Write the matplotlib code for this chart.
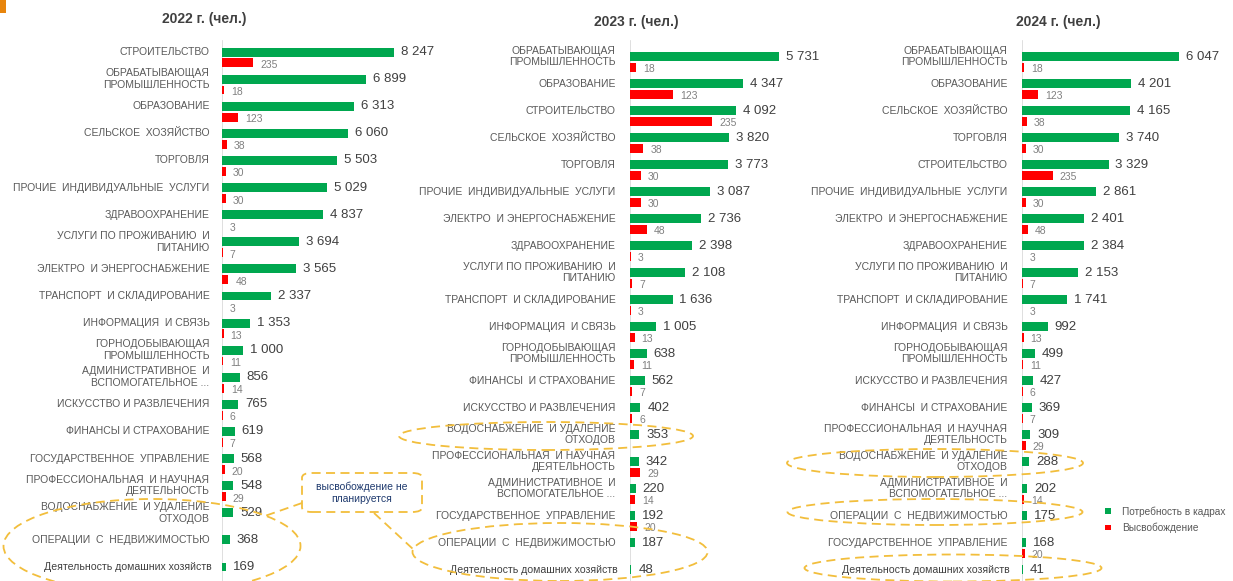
import numpy as np
import matplotlib.pyplot as plt
from matplotlib.patches import Ellipse, FancyBboxPatch, Rectangle

plt.rcParams['font.family'] = ['Liberation Sans', 'DejaVu Sans']

W, H = 1233, 581

# ---- data ----
cats_2022 = ['СТРОИТЕЛЬСТВО', 'ОБРАБАТЫВАЮЩАЯ\nПРОМЫШЛЕННОСТЬ', 'ОБРАЗОВАНИЕ', 'СЕЛЬСКОЕ  ХОЗЯЙСТВО',
             'ТОРГОВЛЯ', 'ПРОЧИЕ  ИНДИВИДУАЛЬНЫЕ  УСЛУГИ', 'ЗДРАВООХРАНЕНИЕ',
             'УСЛУГИ ПО ПРОЖИВАНИЮ  И\nПИТАНИЮ', 'ЭЛЕКТРО  И ЭНЕРГОСНАБЖЕНИЕ', 'ТРАНСПОРТ  И СКЛАДИРОВАНИЕ',
             'ИНФОРМАЦИЯ  И СВЯЗЬ', 'ГОРНОДОБЫВАЮЩАЯ\nПРОМЫШЛЕННОСТЬ', 'АДМИНИСТРАТИВНОЕ  И\nВСПОМОГАТЕЛЬНОЕ ...',
             'ИСКУССТВО И РАЗВЛЕЧЕНИЯ', 'ФИНАНСЫ И СТРАХОВАНИЕ', 'ГОСУДАРСТВЕННОЕ  УПРАВЛЕНИЕ',
             'ПРОФЕССИОНАЛЬНАЯ  И НАУЧНАЯ\nДЕЯТЕЛЬНОСТЬ', 'ВОДОСНАБЖЕНИЕ  И УДАЛЕНИЕ\nОТХОДОВ',
             'ОПЕРАЦИИ  С  НЕДВИЖИМОСТЬЮ', 'Деятельность домашних хозяйств']
need_2022 = [8247, 6899, 6313, 6060, 5503, 5029, 4837, 3694, 3565, 2337,
             1353, 1000, 856, 765, 619, 568, 548, 529, 368, 169]
rel_2022 = [235, 18, 123, 38, 30, 30, 3, 7, 48, 3,
            13, 11, 14, 6, 7, 20, 29, None, None, None]

cats_2023 = ['ОБРАБАТЫВАЮЩАЯ\nПРОМЫШЛЕННОСТЬ', 'ОБРАЗОВАНИЕ', 'СТРОИТЕЛЬСТВО', 'СЕЛЬСКОЕ  ХОЗЯЙСТВО',
             'ТОРГОВЛЯ', 'ПРОЧИЕ  ИНДИВИДУАЛЬНЫЕ  УСЛУГИ', 'ЭЛЕКТРО  И ЭНЕРГОСНАБЖЕНИЕ', 'ЗДРАВООХРАНЕНИЕ',
             'УСЛУГИ ПО ПРОЖИВАНИЮ  И\nПИТАНИЮ', 'ТРАНСПОРТ  И СКЛАДИРОВАНИЕ', 'ИНФОРМАЦИЯ  И СВЯЗЬ',
             'ГОРНОДОБЫВАЮЩАЯ\nПРОМЫШЛЕННОСТЬ', 'ФИНАНСЫ  И СТРАХОВАНИЕ', 'ИСКУССТВО И РАЗВЛЕЧЕНИЯ',
             'ВОДОСНАБЖЕНИЕ  И УДАЛЕНИЕ\nОТХОДОВ', 'ПРОФЕССИОНАЛЬНАЯ  И НАУЧНАЯ\nДЕЯТЕЛЬНОСТЬ',
             'АДМИНИСТРАТИВНОЕ  И\nВСПОМОГАТЕЛЬНОЕ ...', 'ГОСУДАРСТВЕННОЕ  УПРАВЛЕНИЕ',
             'ОПЕРАЦИИ  С  НЕДВИЖИМОСТЬЮ', 'Деятельность домашних хозяйств']
need_2023 = [5731, 4347, 4092, 3820, 3773, 3087, 2736, 2398, 2108, 1636,
             1005, 638, 562, 402, 353, 342, 220, 192, 187, 48]
rel_2023 = [18, 123, 235, 38, 30, 30, 48, 3, 7, 3,
            13, 11, 7, 6, None, 29, 14, 20, None, None]

cats_2024 = ['ОБРАБАТЫВАЮЩАЯ\nПРОМЫШЛЕННОСТЬ', 'ОБРАЗОВАНИЕ', 'СЕЛЬСКОЕ  ХОЗЯЙСТВО', 'ТОРГОВЛЯ',
             'СТРОИТЕЛЬСТВО', 'ПРОЧИЕ  ИНДИВИДУАЛЬНЫЕ  УСЛУГИ', 'ЭЛЕКТРО  И ЭНЕРГОСНАБЖЕНИЕ', 'ЗДРАВООХРАНЕНИЕ',
             'УСЛУГИ ПО ПРОЖИВАНИЮ  И\nПИТАНИЮ', 'ТРАНСПОРТ  И СКЛАДИРОВАНИЕ', 'ИНФОРМАЦИЯ  И СВЯЗЬ',
             'ГОРНОДОБЫВАЮЩАЯ\nПРОМЫШЛЕННОСТЬ', 'ИСКУССТВО И РАЗВЛЕЧЕНИЯ', 'ФИНАНСЫ  И СТРАХОВАНИЕ',
             'ПРОФЕССИОНАЛЬНАЯ  И НАУЧНАЯ\nДЕЯТЕЛЬНОСТЬ', 'ВОДОСНАБЖЕНИЕ  И УДАЛЕНИЕ\nОТХОДОВ',
             'АДМИНИСТРАТИВНОЕ  И\nВСПОМОГАТЕЛЬНОЕ ...', 'ОПЕРАЦИИ  С  НЕДВИЖИМОСТЬЮ',
             'ГОСУДАРСТВЕННОЕ  УПРАВЛЕНИЕ', 'Деятельность домашних хозяйств']
need_2024 = [6047, 4201, 4165, 3740, 3329, 2861, 2401, 2384, 2153, 1741,
             992, 499, 427, 369, 309, 288, 202, 175, 168, 41]
rel_2024 = [18, 123, 38, 30, 235, 30, 48, 3, 7, 3,
            13, 11, 6, 7, 29, None, 14, None, 20, None]

titles = ['2022 г. (чел.)', '2023 г. (чел.)', '2024 г. (чел.)']
legend_labels = ['Потребность в кадрах', 'Высвобождение']
note = 'высвобождение не\nпланируется'

GREEN = '#00A74F'
RED = '#FF0000'
GOLD = '#F2BE3C'

fig = plt.figure(figsize=(W / 100, H / 100), dpi=100)


def fx(px):
    return px / W


def fy(py):
    return 1 - py / H


def fmt(v):
    return f'{v:,}'.replace(',', ' ')


# x0 px, first row centre px, row spacing px, green px/unit, red px/unit, title centre, label gap
panels = [
    (cats_2022, need_2022, rel_2022, 222, 57.5, 27.1, 0.02086, 0.132, (204, 19), 9),
    (cats_2023, need_2023, rel_2023, 630, 62.0, 27.0, 0.0260, 0.350, (636, 22), 10.5),
    (cats_2024, need_2024, rel_2024, 1022, 62.0, 27.0, 0.0260, 0.130, (1058, 22), 10.5),
]

top_px, bot_px, width_px = 30, 581, 200
for k, (cats, need, rel, x0, y0, sp, sg, sr, tpos, gap) in enumerate(panels):
    ax = fig.add_axes([fx(x0), fy(bot_px), width_px / W, (bot_px - top_px) / H])
    ax2 = ax.twiny()
    ypos = np.arange(len(cats))
    gb = ax.barh(ypos - 0.2, need, height=0.33, color=GREEN)
    ry = [y for y, r in zip(ypos, rel) if r is not None]
    rv = [r for r in rel if r is not None]
    rb = ax2.barh(np.array(ry) + 0.2, rv, height=0.33, color=RED)
    ax.set_xlim(0, width_px / sg)
    ax2.set_xlim(0, width_px / sr)
    for a in (ax, ax2):
        a.set_ylim((bot_px - y0) / sp, (top_px - y0) / sp)
        a.axis('off')
    ax.axvline(0, ymin=0, ymax=0.98, color='#d9d9d9', lw=1.2, zorder=0)

    for y, v, c in zip(ypos, need, cats):
        ax.annotate(fmt(v), (v, y - 0.2), xytext=(5, 0), textcoords='offset points',
                    va='center', ha='left', fontsize=9.5, color='#404040')
        last = c.startswith('Деят')
        ax.annotate(c, (0, y - 0.2), xytext=(-gap + (1.5 if last else 0), 0),
                    textcoords='offset points',
                    va='center', ha='right', fontsize=7.5 if not last else 7.6,
                    color='#595959' if not last else '#404040', linespacing=1.2,
                    annotation_clip=False)
    for y, r in zip(ry, rv):
        ax2.annotate(str(r), (r, y + 0.2), xytext=(5, -1.5), textcoords='offset points',
                     va='center', ha='left', fontsize=7.5, color='#808080')

    fig.text(fx(tpos[0]), fy(tpos[1]), titles[k], ha='center', va='center',
             fontsize=10, fontweight='bold', color='#404040')

    if k == 2:
        ax.legend([gb, rb], legend_labels, loc='upper left', frameon=False,
                  bbox_to_anchor=(fx(1099), fy(500)), bbox_transform=fig.transFigure,
                  fontsize=7.3, labelcolor='#595959', handlelength=0.6, handleheight=0.5,
                  handletextpad=1.1, labelspacing=0.6, borderaxespad=0.2)

# dashed callouts (pixel centre, width, height)
ellipses = [((152, 546), 297, 94), ((546, 436), 294, 28), ((560, 552), 295, 58),
            ((935, 463), 296, 28), ((935, 512), 295, 26), ((953, 568), 297, 27)]
for (cx, cy), ew, eh in ellipses:
    fig.add_artist(Ellipse((fx(cx), fy(cy)), ew / W, eh / H, transform=fig.transFigure,
                           fill=False, ec=GOLD, lw=1.3, ls=(0, (5, 3))))

box = FancyBboxPatch((fx(302), fy(512)), 120 / W, 39 / H, transform=fig.transFigure,
                     boxstyle='round,pad=0,rounding_size=0.008', fill=False,
                     ec=GOLD, lw=1.3, ls=(0, (5, 3)))
fig.add_artist(box)
fig.text(fx(362), fy(493), note, ha='center', va='center', fontsize=7.5,
         color='#1F3A6E', linespacing=1.3)
fig.add_artist(plt.Line2D([fx(302), fx(262)], [fy(503), fy(517)], transform=fig.transFigure,
                          color=GOLD, lw=1.3, ls=(0, (5, 3))))
fig.add_artist(plt.Line2D([fx(374), fx(414)], [fy(513), fy(550)], transform=fig.transFigure,
                          color=GOLD, lw=1.3, ls=(0, (5, 3))))

fig.add_artist(Rectangle((0, fy(13)), 6 / W, 13 / H, transform=fig.transFigure,
                         color='#E8850C', lw=0))

fig.savefig('out.png', dpi=100, facecolor='white')
